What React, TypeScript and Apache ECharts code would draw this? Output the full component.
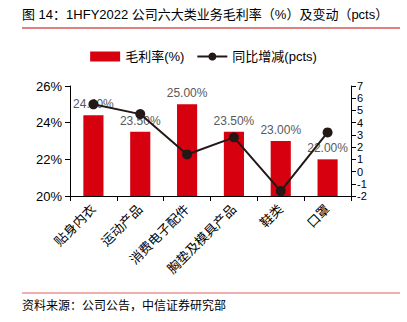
import React, { useEffect, useRef } from "react";
import * as echarts from "echarts";

const categories = ["贴身内衣", "运动产品", "消费电子配件", "胸垫及模具产品", "鞋类", "口罩"];
const grossMargin = [24.4, 23.5, 25.0, 23.5, 23.0, 22.0];
const yoyChange = [5.5, 4.7, 1.4, 2.8, -1.6, 3.2];

const FONT = "'Liberation Sans', 'Noto Sans CJK SC', sans-serif";

export default function App() {
  const ref = useRef<HTMLDivElement>(null);
  useEffect(() => {
    const chart = echarts.init(ref.current!, null, { renderer: "svg" });
    chart.setOption({
      animation: false,
      backgroundColor: "#ffffff",
      textStyle: { fontFamily: FONT },
      graphic: [
        {
          type: "text",
          left: 22,
          top: 8,
          style: {
            text: "图 14：1HFY2022 公司六大类业务毛利率（%）及变动（pcts）",
            fontSize: 13,
            fill: "#000",
            fontFamily: FONT,
          },
        },
        {
          type: "line",
          shape: { x1: 22, y1: 28, x2: 400, y2: 28 },
          style: { stroke: "#c00000", lineWidth: 1 },
        },
        {
          type: "line",
          shape: { x1: 22, y1: 293, x2: 400, y2: 293 },
          style: { stroke: "#e06060", lineWidth: 1 },
        },
        {
          type: "text",
          left: 22,
          top: 300,
          style: {
            text: "资料来源：公司公告，中信证券研究部",
            fontSize: 12,
            fill: "#000",
            fontFamily: FONT,
          },
        },
      ],
      legend: {
        top: 45,
        left: "center",
        itemGap: 12,
        itemWidth: 30,
        itemHeight: 10,
        textStyle: { fontSize: 13, color: "#000", fontFamily: FONT },
        data: [
          { name: "毛利率(%)", icon: "rect" },
          { name: "同比增减(pcts)" },
        ],
      },
      grid: { left: 70, right: 56, top: 86, bottom: 126 },
      xAxis: {
        type: "category",
        data: categories,
        axisLine: { onZero: false, lineStyle: { color: "#000" } },
        axisTick: { show: true, alignWithLabel: false, lineStyle: { color: "#000" } },
        axisLabel: { rotate: 45, fontSize: 13, color: "#000", interval: 0, margin: 11 },
      },
      yAxis: [
        {
          type: "value",
          min: 20,
          max: 26,
          interval: 2,
          splitLine: { show: false },
          axisLine: { show: true, lineStyle: { color: "#000" } },
          axisTick: { show: true, lineStyle: { color: "#000" } },
          axisLabel: { formatter: "{value}%", fontSize: 13, color: "#000" },
        },
        {
          type: "value",
          min: -2,
          max: 7,
          interval: 1,
          splitLine: { show: false },
          axisLine: { show: true, lineStyle: { color: "#000" } },
          axisTick: { show: true, lineStyle: { color: "#000" } },
          axisLabel: {
            fontSize: 11,
            lineHeight: 11,
            color: "#000",
            margin: 6,
            hideOverlap: false,
            showMinLabel: true,
            showMaxLabel: true,
          },
        },
      ],
      series: [
        {
          name: "毛利率(%)",
          type: "bar",
          data: grossMargin,
          barWidth: "43%",
          itemStyle: { color: "#d7000f" },
          label: {
            show: true,
            position: "top",
            fontSize: 12,
            color: "#595959",
            formatter: (p: any) => p.value.toFixed(2) + "%",
          },
        },
        {
          name: "同比增减(pcts)",
          type: "line",
          yAxisIndex: 1,
          data: yoyChange,
          symbol: "circle",
          symbolSize: 10,
          lineStyle: { color: "#231815", width: 2 },
          itemStyle: { color: "#231815" },
          z: 5,
        },
      ],
    });
    return () => chart.dispose();
  }, []);
  return <div ref={ref} style={{ width: 407, height: 322, position: "absolute", left: 0, top: 0 }} />;
}
